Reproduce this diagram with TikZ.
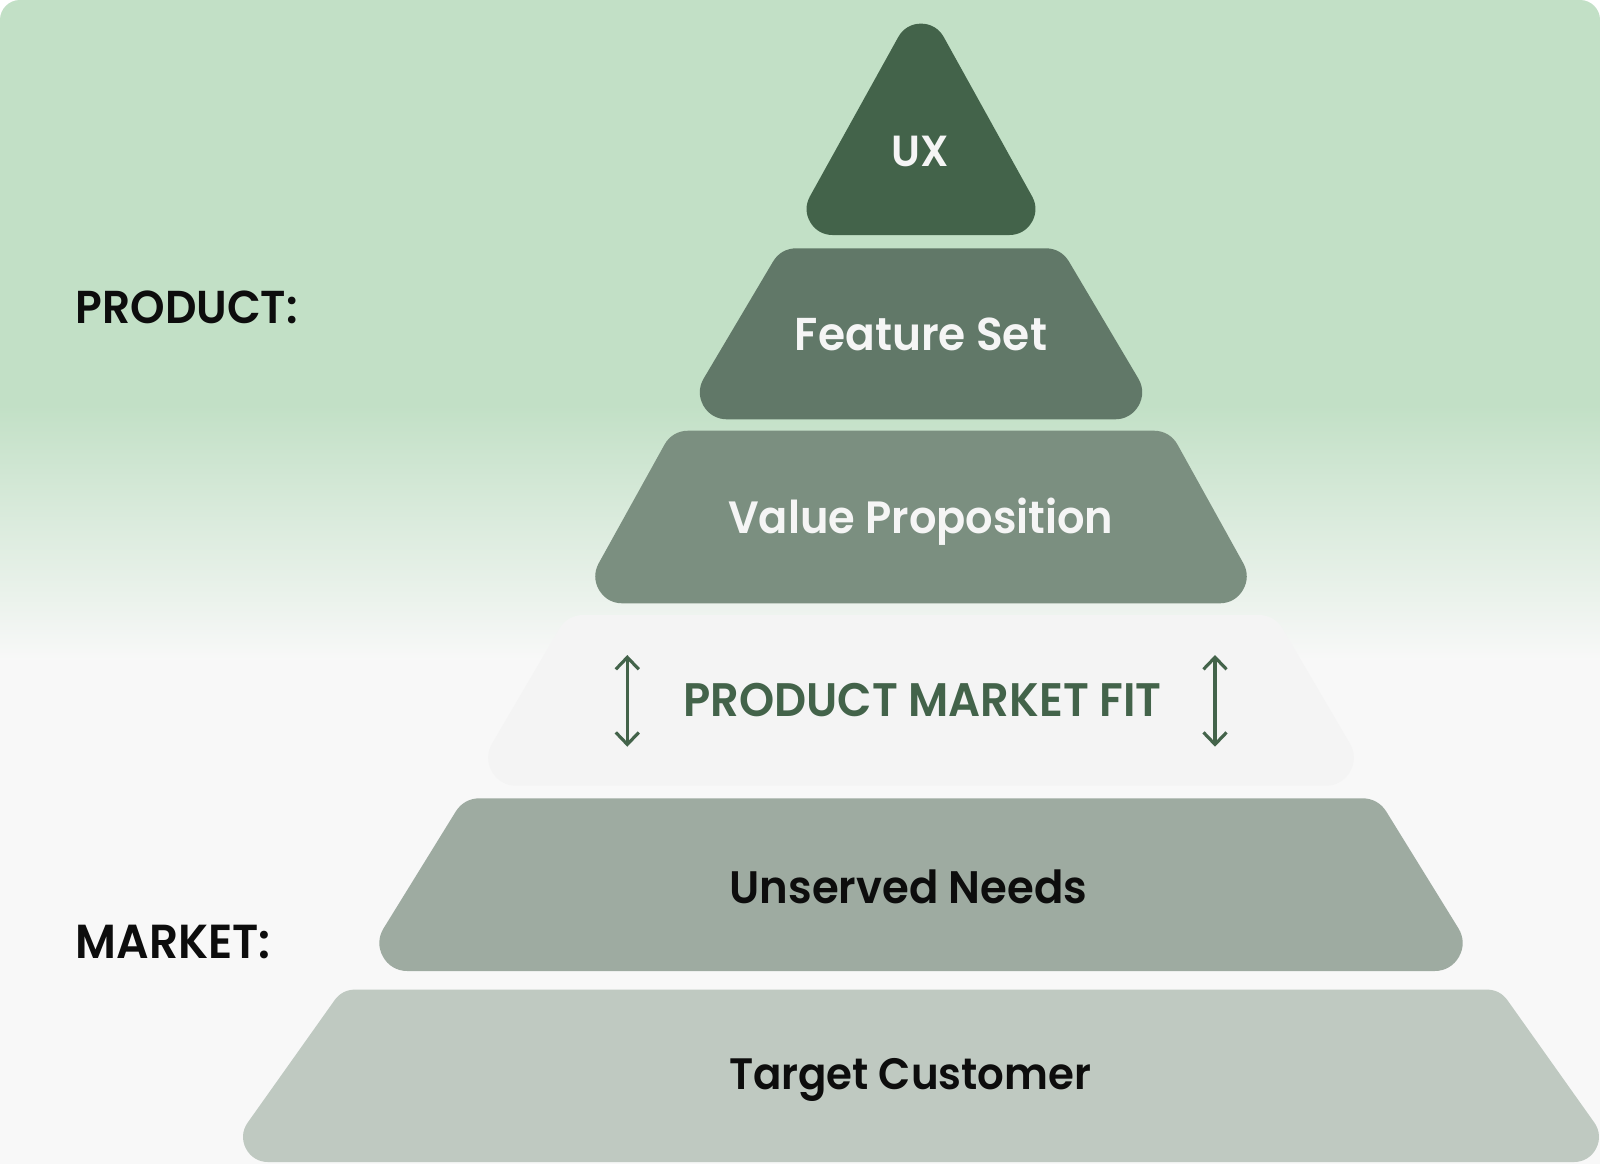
\documentclass[tikz,border=0pt]{standalone}
\usepackage{fontspec}
\setmainfont{Poppins}[BoldFont={* SemiBold}]
\usetikzlibrary{arrows.meta}
\definecolor{bggreen}{HTML}{C2E0C6}
\definecolor{bgbot}{HTML}{F8F8F8}
\definecolor{cux}{HTML}{43634A}
\definecolor{cfs}{HTML}{617868}
\definecolor{cvp}{HTML}{7B8F80}
\definecolor{cpmf}{HTML}{F4F4F4}
\definecolor{cun}{HTML}{9EABA1}
\definecolor{ctc}{HTML}{BFC9C1}
\definecolor{txtw}{HTML}{F5F5F5}
\definecolor{txtk}{HTML}{0D0D0D}
\definecolor{dkgreen}{HTML}{43634A}
\newcommand{\fitw}[2]{\resizebox{#1 cm}{!}{\scalebox{1}[1.05]{#2}}}
% color, ytop, ybot, half-width top, half-width bottom, corner radius (px)
\newcommand{\pyrlayer}[6]{%
  \pgfmathsetmacro{\pyS}{(#5-#4)/(#3-#2)}%
  \pgfmathsetmacro{\pyK}{#6*sqrt(1+\pyS*\pyS)}%
  \pgfmathsetmacro{\pyT}{#4+\pyS*#6-\pyK}%
  \pgfmathsetmacro{\pyB}{#5-\pyS*#6-\pyK}%
  \pgfmathsetmacro{\pyW}{2*#6*0.01}%
  \filldraw[#1, line width=\pyW cm, line join=round]
    (921-\pyT,#2+#6) -- (921+\pyT,#2+#6) -- (921+\pyB,#3-#6) -- (921-\pyB,#3-#6) -- cycle;
}
% color, yapex, ybase, half-width base, radius
\newcommand{\pyrtop}[5]{%
  \pgfmathsetmacro{\pyS}{#4/(#3-#2)}%
  \pgfmathsetmacro{\pyK}{#5*sqrt(1+\pyS*\pyS)}%
  \pgfmathsetmacro{\pyA}{#2+\pyK/\pyS}%
  \pgfmathsetmacro{\pyB}{#4-\pyS*#5-\pyK}%
  \pgfmathsetmacro{\pyW}{2*#5*0.01}%
  \filldraw[#1, line width=\pyW cm, line join=round]
    (921,\pyA) -- (921+\pyB,#3-#5) -- (921-\pyB,#3-#5) -- cycle;
}
\tikzset{
  lbl/.style={font=\bfseries, inner sep=0pt},
  fitarrow/.style={draw=dkgreen, line width=0.9pt,
    {Straight Barb[length=1.2mm,width=2.3mm]}-{Straight Barb[length=1.2mm,width=2.3mm]}},
}
\begin{document}
\begin{tikzpicture}[x=0.01cm,y=-0.01cm]
\useasboundingbox (0,0) rectangle (1600,1163);
\fill[white] (0,0) rectangle (1600,1163);
% background
\fill[bgbot, rounded corners=0.2cm] (0,0) rectangle (1600,1300);
\fill[bggreen, rounded corners=0.2cm] (0,0) rectangle (1600,440);
\shade[top color=bggreen, bottom color=bgbot] (0,405) rectangle (1600,660);
% pyramid layers
\pyrtop{cux}{-4}{235}{132.5}{26}
\pyrlayer{cfs}{248.3}{419.3}{140.1}{241.5}{27}
\pyrlayer{cvp}{430.7}{603.3}{248.8}{344.5}{27}
\pyrlayer{cpmf}{615}{785.7}{353.6}{453.6}{28}
\pyrlayer{cun}{798.3}{971}{457.1}{563.8}{28}
\pyrlayer{ctc}{989.6}{1162}{578.9}{701.3}{25}
% labels
\node[lbl, text=txtw, anchor=base] (ux) at (920.5,166) {\fitw{0.573}{UX}};
\node[lbl, text=txtw, anchor=base] (fs) at (921,350) {\fitw{2.52}{Feature Set}};
\node[lbl, text=txtw, anchor=base west] (vp) at (727.5,533.3) {\fitw{3.85}{Value Proposition}};
\node[lbl, text=dkgreen, anchor=base west] (pmf) at (682.7,716) {\fitw{4.78}{PRODUCT MARKET FIT}};
\node[lbl, text=txtk, anchor=base west] (un) at (729,903.3) {\fitw{3.574}{Unserved Needs}};
\node[lbl, text=txtk, anchor=base west] (tc) at (728.3,1089) {\fitw{3.62}{Target Customer}};
\node[lbl, text=txtk, anchor=base west] (prod) at (75,323.3) {\fitw{2.22}{PRODUCT:}};
\node[lbl, text=txtk, anchor=base west] (mkt) at (75,958) {\fitw{1.95}{MARKET:}};
% fit arrows
\coordinate (alt) at (627.3,655);
\coordinate (alb) at (627.3,746.7);
\coordinate (art) at (1215,655);
\coordinate (arb) at (1215,746.7);
\draw[fitarrow] (alt) -- (alb);
\draw[fitarrow] (art) -- (arb);
\end{tikzpicture}
\end{document}
